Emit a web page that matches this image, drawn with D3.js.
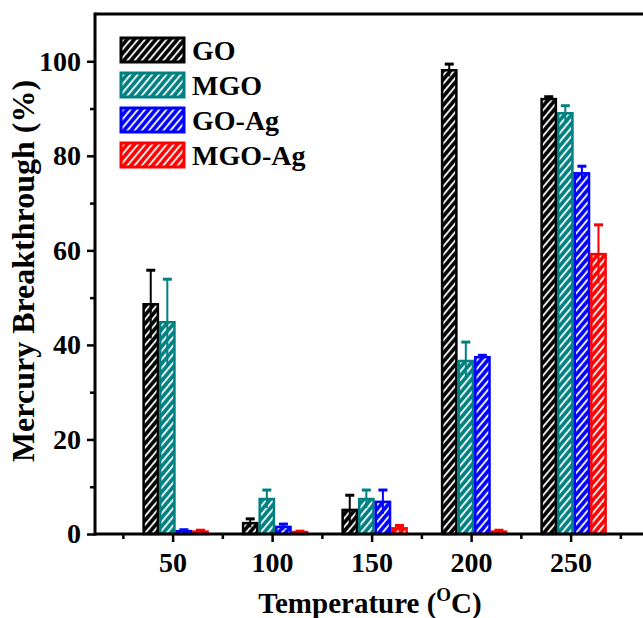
<!DOCTYPE html>
<html>
<head>
<meta charset="utf-8">
<script src="https://cdn.jsdelivr.net/npm/d3@7"></script>
<style>
  body { margin: 0; background: #fff; }
  svg { display: block; font-family: 'Liberation Serif', 'Times New Roman', serif; font-weight: bold; }
</style>
</head>
<body>
<svg width="643" height="618"></svg>
<script>
const temps = [50, 100, 150, 200, 250]
const series = ['GO', 'MGO', 'GO-Ag', 'MGO-Ag']
const colors = ['#000000', '#008080', '#0000ff', '#ff0000']

// breakthrough (%) and error per temperature
const goVals = [48.6, 2.3, 5.1, 98.1, 92.0]
const goErr = [7.2, 0.9, 3.1, 1.3, 0.5]
const mgoVals = [44.8, 7.4, 7.4, 36.6, 89.0]
const mgoErr = [9.1, 1.9, 1.9, 4.0, 1.6]
const goAgVals = [0.6, 1.5, 6.8, 37.4, 76.3]
const goAgErr = [0.3, 0.6, 2.5, 0.4, 1.5]
const mgoAgVals = [0.5, 0.4, 1.2, 0.5, 59.2]
const mgoAgErr = [0.3, 0.2, 0.6, 0.3, 6.2]

const yTicks = [0, 20, 40, 60, 80, 100]

const vals = [goVals, mgoVals, goAgVals, mgoAgVals]
const errs = [goErr, mgoErr, goAgErr, mgoAgErr]

let rows = []
series.forEach(function (s, i) {
  temps.forEach(function (t, j) {
    rows.push({ s: s, i: i, t: t, v: vals[i][j], e: errs[i][j] })
  })
})

let svg = d3.select('svg')
let plotLeft = 95, plotTop = 14, plotBottom = 534

let x = d3.scaleLinear().domain([11, 290]).range([plotLeft, plotLeft + 279 * 1.99])
let y = d3.scaleLinear().domain([0, 110]).range([plotBottom, plotTop])
let xb = d3.scaleBand().domain(series).range([-29, 35]).paddingInner(0.14)

// hatch patterns
let defs = svg.append('defs')
series.forEach(function (s, i) {
  let p = defs.append('pattern')
    .attr('id', 'hatch' + i)
    .attr('patternUnits', 'userSpaceOnUse')
    .attr('width', 5.5)
    .attr('height', 5.5)
    .attr('patternTransform', 'rotate(40)')
  p.append('rect').attr('width', 5.5).attr('height', 5.5).attr('fill', colors[i])
  p.append('rect').attr('x', 2).attr('width', 1.8).attr('height', 5.5).attr('fill', '#fff')
})

// bars
svg.selectAll('.bar')
  .data(rows)
  .enter()
  .append('rect')
  .attr('class', 'bar')
  .attr('x', function (d) { return x(d.t) + xb(d.s) })
  .attr('y', function (d) { return y(d.v) })
  .attr('width', xb.bandwidth())
  .attr('height', function (d) { return y(0) - y(d.v) })
  .attr('fill', function (d) { return 'url(#hatch' + d.i + ')' })
  .attr('stroke', function (d) { return colors[d.i] })
  .attr('stroke-width', 2.5)

// error bars
let eb = svg.selectAll('.err')
  .data(rows)
  .enter()
  .append('g')
  .attr('class', 'err')
  .attr('stroke', function (d) { return colors[d.i] })
eb.append('line')
  .attr('x1', function (d) { return x(d.t) + xb(d.s) + xb.bandwidth() / 2 })
  .attr('x2', function (d) { return x(d.t) + xb(d.s) + xb.bandwidth() / 2 })
  .attr('y1', function (d) { return y(Math.max(0, d.v - d.e)) })
  .attr('y2', function (d) { return y(d.v + d.e) })
  .attr('stroke-width', 2)
eb.append('line')
  .attr('x1', function (d) { return x(d.t) + xb(d.s) + xb.bandwidth() / 2 - 4.5 })
  .attr('x2', function (d) { return x(d.t) + xb(d.s) + xb.bandwidth() / 2 + 4.5 })
  .attr('y1', function (d) { return y(d.v + d.e) })
  .attr('y2', function (d) { return y(d.v + d.e) })
  .attr('stroke-width', 3)

// axes
let yAxis = svg.append('g')
  .attr('transform', 'translate(' + plotLeft + ',0)')
  .call(d3.axisLeft(y).tickValues(yTicks).tickSize(8).tickPadding(6))
yAxis.append('g')
  .call(d3.axisLeft(y).tickValues([10, 30, 50, 70, 90]).tickSize(5).tickFormat(''))

let xAxis = svg.append('g')
  .attr('transform', 'translate(0,' + plotBottom + ')')
  .call(d3.axisBottom(x).tickValues(temps).tickSize(8).tickPadding(10))
xAxis.append('g')
  .call(d3.axisBottom(x).tickValues([25, 75, 125, 175, 225, 275]).tickSize(5).tickFormat(''))

svg.selectAll('.domain').remove()
svg.append('line').attr('x1', plotLeft).attr('x2', plotLeft).attr('y1', plotTop - 1.5).attr('y2', plotBottom + 1.5)
  .attr('stroke', '#000').attr('stroke-width', 3)
svg.append('line').attr('x1', plotLeft).attr('x2', 643).attr('y1', plotBottom).attr('y2', plotBottom)
  .attr('stroke', '#000').attr('stroke-width', 3)
svg.append('line').attr('x1', plotLeft).attr('x2', 643).attr('y1', plotTop).attr('y2', plotTop)
  .attr('stroke', '#000').attr('stroke-width', 3)

svg.selectAll('.tick line').attr('stroke-width', 2.5)
svg.selectAll('.tick text')
  .attr('font-size', 28)
  .attr('font-family', 'Liberation Serif')
  .attr('font-weight', 'bold')
  .attr('fill', '#000')

// axis titles
svg.append('text')
  .attr('transform', 'translate(34,' + 271 + ') rotate(-90)')
  .attr('text-anchor', 'middle')
  .attr('font-size', 32)
  .text('Mercury Breakthrough (%)')

let xt = svg.append('text')
  .attr('x', 370)
  .attr('y', 613)
  .attr('text-anchor', 'middle')
  .attr('font-size', 29)
xt.append('tspan').text('Temperature (')
xt.append('tspan').attr('font-size', 19).attr('dy', -12).text('O')
xt.append('tspan').attr('dy', 12).text('C)')

// legend
let lg = svg.selectAll('.lg')
  .data(series)
  .enter()
  .append('g')
  .attr('class', 'lg')
  .attr('transform', function (d, i) { return 'translate(121,' + (38 + i * 35) + ')' })
lg.append('rect')
  .attr('width', 63)
  .attr('height', 24)
  .attr('fill', function (d, i) { return 'url(#hatch' + i + ')' })
  .attr('stroke', function (d, i) { return colors[i] })
  .attr('stroke-width', 3)
lg.append('text')
  .attr('x', 71)
  .attr('y', 22)
  .attr('font-size', 28)
  .text(function (d) { return d })
</script>
</body>
</html>
